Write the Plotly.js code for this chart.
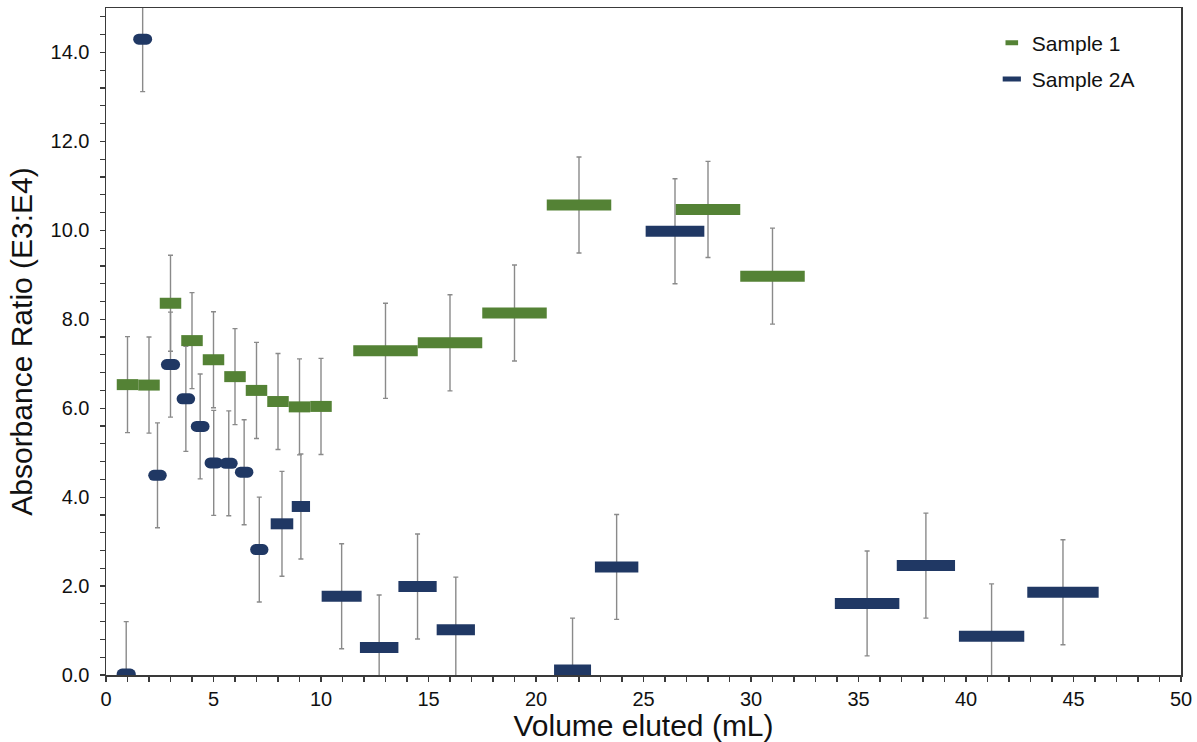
<!DOCTYPE html>
<html>
<head>
<meta charset="utf-8">
<script src="https://cdn.plot.ly/plotly-3.0.1.min.js"></script>
<style>
  html, body { margin: 0; padding: 0; background: #ffffff; }
  #chart { width: 1197px; height: 742px; }
</style>
</head>
<body>
<div id="chart"></div>
<script>
// ---- Data ----
// Sample 1: fraction volume ranges (mL), absorbance ratio, error
const s1Start = [0.5, 1.5, 2.5, 3.5, 4.5, 5.5, 6.5, 7.5, 8.5, 9.5, 11.5, 14.5, 17.5, 20.5, 26.5, 29.5];
const s1End   = [1.5, 2.5, 3.5, 4.5, 5.5, 6.5, 7.5, 8.5, 9.5, 10.5, 14.5, 17.5, 20.5, 23.5, 29.5, 32.5];
const s1Value = [6.53, 6.52, 8.36, 7.52, 7.09, 6.71, 6.40, 6.15, 6.03, 6.04, 7.29, 7.47, 8.14, 10.57, 10.47, 8.97];
const s1Error = [1.08, 1.08, 1.08, 1.08, 1.08, 1.08, 1.08, 1.08, 1.08, 1.08, 1.07, 1.08, 1.08, 1.08, 1.08, 1.08];

// Sample 2A
const s2Start = [0.5, 1.27, 1.97, 2.56, 3.29, 3.95, 4.59, 5.30, 6.00, 6.71, 7.66, 8.64, 10.03, 11.81, 13.60, 15.38, 20.84, 22.74, 25.10, 33.90, 36.78, 39.67, 42.85];
const s2End   = [1.38, 2.14, 2.82, 3.44, 4.14, 4.81, 5.43, 6.12, 6.85, 7.55, 8.71, 9.49, 11.89, 13.60, 15.38, 17.16, 22.56, 24.76, 27.83, 36.90, 39.49, 42.71, 46.17];
const s2Value = [0.02, 14.30, 4.49, 6.98, 6.21, 5.59, 4.77, 4.76, 4.56, 2.82, 3.40, 3.79, 1.77, 0.62, 1.99, 1.02, 0.11, 2.43, 9.98, 1.61, 2.46, 0.87, 1.86];
const s2Error = [1.18, 1.18, 1.18, 1.18, 1.18, 1.18, 1.18, 1.18, 1.18, 1.18, 1.18, 1.18, 1.18, 1.18, 1.18, 1.18, 1.17, 1.18, 1.18, 1.18, 1.18, 1.18, 1.18];

const seriesNames = ['Sample 1', 'Sample 2A'];
const xTickVals = [0, 5, 10, 15, 20, 25, 30, 35, 40, 45, 50];
const yTickVals = [0, 2, 4, 6, 8, 10, 12, 14];

// ---- Styling ----
const GREEN = '#548235';
const BLUE = '#203864';
const ERRC = '#8a8a8a';
const FONT = 'Liberation Sans, Arial, Helvetica, sans-serif';
const BAR_W = 11;           // bar thickness (px)
const ROUNDED_BLUE = 10;    // first Sample 2A bars drawn with rounded ends
const CAP_INSET = 0.25;     // x-units trimmed so rounded caps keep the same visual length

function segments(starts, ends, vals, inset) {
  const x = [], y = [];
  for (let i = 0; i < starts.length; i++) {
    x.push(starts[i] + inset, ends[i] - inset, null);
    y.push(vals[i], vals[i], null);
  }
  return {x, y};
}
function centers(starts, ends) {
  return starts.map((s, i) => (s + ends[i]) / 2);
}

const seg1 = segments(s1Start, s1End, s1Value, 0);
const seg2a = segments(s2Start.slice(0, ROUNDED_BLUE), s2End.slice(0, ROUNDED_BLUE), s2Value.slice(0, ROUNDED_BLUE), CAP_INSET);
const seg2b = segments(s2Start.slice(ROUNDED_BLUE), s2End.slice(ROUNDED_BLUE), s2Value.slice(ROUNDED_BLUE), 0);

const traces = [
  {
    x: centers(s1Start, s1End), y: s1Value, type: 'scatter', mode: 'markers',
    marker: {size: 1, opacity: 0}, showlegend: false, hoverinfo: 'skip',
    error_y: {type: 'data', array: s1Error, visible: true, color: ERRC, thickness: 1.4, width: 2.5}
  },
  {
    x: centers(s2Start, s2End), y: s2Value, type: 'scatter', mode: 'markers',
    marker: {size: 1, opacity: 0}, showlegend: false, hoverinfo: 'skip',
    error_y: {type: 'data', array: s2Error, visible: true, color: ERRC, thickness: 1.4, width: 2.5}
  },
  {
    x: seg1.x, y: seg1.y, type: 'scatter', mode: 'lines', connectgaps: false,
    line: {color: GREEN, width: BAR_W}, showlegend: false, name: seriesNames[0]
  },
  {
    x: seg2a.x, y: seg2a.y, type: 'scatter', mode: 'lines', connectgaps: false,
    line: {color: BLUE, width: BAR_W}, showlegend: false, name: seriesNames[1]
  },
  {
    x: seg2b.x, y: seg2b.y, type: 'scatter', mode: 'lines', connectgaps: false,
    line: {color: BLUE, width: BAR_W}, showlegend: false, name: seriesNames[1]
  },
  {
    x: [null], y: [null], type: 'scatter', mode: 'markers', name: seriesNames[0],
    legendgroup: 'g1',
    marker: {symbol: 'line-ew', size: 9, line: {color: GREEN, width: 5}}
  },
  {
    x: [null], y: [null], type: 'scatter', mode: 'markers', name: seriesNames[1],
    legendgroup: 'g2',
    marker: {symbol: 'line-ew', size: 13, line: {color: BLUE, width: 7}}
  }
];

const layout = {
  width: 1197, height: 742,
  margin: {l: 106, r: 16, t: 8, b: 67, pad: 0},
  paper_bgcolor: '#ffffff', plot_bgcolor: '#ffffff',
  font: {family: FONT, color: '#111111', size: 20},
  showlegend: true,
  legend: {
    x: 0.824, y: 0.978, xanchor: 'left', yanchor: 'top',
    font: {family: FONT, size: 21, color: '#111111'},
    bgcolor: 'rgba(255,255,255,0)', traceorder: 'grouped', tracegroupgap: 6,
    itemwidth: 30
  },
  xaxis: {
    range: [0, 50], tickvals: xTickVals, ticktext: xTickVals.map(String),
    showgrid: false, zeroline: false, showline: true, linecolor: '#3a3a3a', linewidth: 1.5,
    mirror: true, ticks: 'outside', ticklen: 5, tickwidth: 1.2, tickcolor: '#3a3a3a',
    minor: {dtick: 1, ticks: 'outside', ticklen: 5, tickwidth: 1.2, tickcolor: '#3a3a3a', showgrid: false},
    tickfont: {family: FONT, size: 20, color: '#111111'},
    title: {text: 'Volume eluted (mL)', font: {family: FONT, size: 30, color: '#111111'}, standoff: 4},
    automargin: false
  },
  yaxis: {
    range: [0, 15], tickvals: yTickVals, ticktext: yTickVals.map(v => v.toFixed(1)),
    showgrid: false, zeroline: false, showline: true, linecolor: '#3a3a3a', linewidth: 1.5,
    mirror: true, ticks: 'outside', ticklen: 5, tickwidth: 1.2, tickcolor: '#3a3a3a',
    ticklabelstandoff: 6,
    minor: {dtick: 0.4, tick0: 0, ticks: 'outside', ticklen: 5, tickwidth: 1.2, tickcolor: '#3a3a3a', showgrid: false},
    tickfont: {family: FONT, size: 20, color: '#111111'},
    title: {text: 'Absorbance Ratio (E3:E4)', font: {family: FONT, size: 30, color: '#111111'}, standoff: 9},
    automargin: false
  }
};

Plotly.newPlot('chart', traces, layout, {displayModeBar: false, staticPlot: true}).then(gd => {
  const groups = gd.querySelectorAll('.scatterlayer .trace');
  if (groups[3]) groups[3].querySelectorAll('path.js-line').forEach(p => p.style.strokeLinecap = 'round');
  gd.querySelectorAll('.legend .scatterpts path').forEach(p => p.style.strokeLinecap = 'round');
});
</script>
</body>
</html>
